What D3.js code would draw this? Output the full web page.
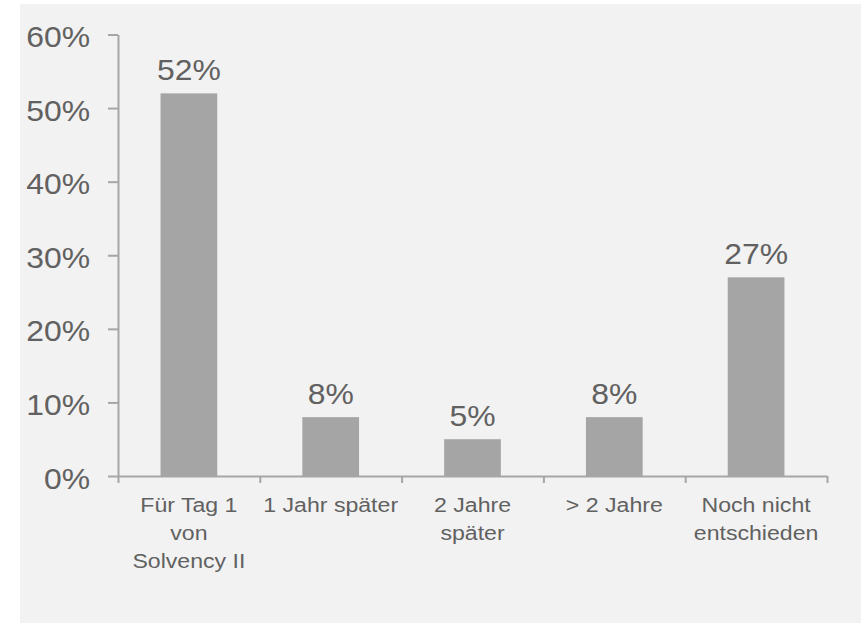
<!DOCTYPE html>
<html>
<head>
<meta charset="utf-8">
<script src="https://cdn.jsdelivr.net/npm/d3@7"></script>
<style>
  html, body { margin: 0; padding: 0; background: #ffffff; }
  svg { display: block; }
  text { font-family: "Liberation Sans", Arial, sans-serif; fill: #616161; }
</style>
</head>
<body>
<svg id="chart" width="862" height="623"></svg>
<script>
// Zeitpunkt der Umsetzung (Anteil der Antworten)
const categories = [
  ["Für Tag 1", "von", "Solvency II"],
  ["1 Jahr später"],
  ["2 Jahre", "später"],
  ["> 2 Jahre"],
  ["Noch nicht", "entschieden"]
];
const values = [0.52, 0.08, 0.05, 0.08, 0.27];
const valueLabels = ["52%", "8%", "5%", "8%", "27%"];
const yTicks = [0, 0.1, 0.2, 0.3, 0.4, 0.5, 0.6];

const plotLeft = 118, plotRight = 827, plotTop = 34.5, plotBottom = 476;
const stretch = 1.1; // horizontal widening of all text
const axisColor = "#a6a6a6";
const barColor = "#a5a5a5";
const textColor = "#616161";

const svg = d3.select("#chart");

// panel background
svg.append("rect")
  .attr("x", 20).attr("y", 4)
  .attr("width", 841).attr("height", 619)
  .attr("fill", "#f2f2f2");

const y = d3.scaleLinear().domain([0, 0.6]).range([plotBottom, plotTop]);
const x = d3.scaleBand().domain(d3.range(values.length)).range([plotLeft, plotRight]).padding(0);
const xEdge = d3.scaleLinear().domain([0, values.length]).range([plotLeft, plotRight]);

// bars
const barW = x.bandwidth() * 0.4;
svg.append("g").selectAll("rect")
  .data(values)
  .join("rect")
  .attr("x", (d, i) => x(i) + (x.bandwidth() - barW) / 2)
  .attr("y", d => y(d))
  .attr("width", barW)
  .attr("height", d => y(0) - y(d))
  .attr("fill", barColor);

// y axis
const yAxis = svg.append("g")
  .attr("transform", `translate(${plotLeft},0)`)
  .call(d3.axisLeft(y).tickValues(yTicks).tickFormat(d3.format(".0%")).tickSize(10).tickSizeOuter(0));
yAxis.selectAll("path, line").attr("stroke", axisColor).attr("stroke-width", 2);
yAxis.selectAll("text")
  .attr("x", null).attr("dy", null)
  .attr("transform", `translate(-28,12) scale(${stretch},1)`)
  .attr("text-anchor", "end")
  .attr("font-size", 29)
  .style("font-family", "'Liberation Sans', Arial, sans-serif")
  .attr("fill", textColor);

// x axis with ticks on category boundaries
const xAxis = svg.append("g")
  .attr("transform", `translate(0,${plotBottom})`)
  .call(d3.axisBottom(xEdge).tickValues(d3.range(values.length + 1)).tickFormat("").tickSize(7).tickSizeOuter(0));
xAxis.selectAll("path, line").attr("stroke", axisColor).attr("stroke-width", 2);

// category labels
const cat = svg.append("g").selectAll("text")
  .data(categories)
  .join("text")
  .attr("transform", (d, i) => `translate(${x(i) + x.bandwidth() / 2},${plotBottom + 36}) scale(${stretch},1)`)
  .attr("text-anchor", "middle")
  .attr("font-size", 21);
cat.selectAll("tspan")
  .data(d => d)
  .join("tspan")
  .attr("x", 0)
  .attr("y", (d, j) => j * 28)
  .text(d => d);

// value labels
svg.append("g").selectAll("text")
  .data(values)
  .join("text")
  .attr("transform", (d, i) => `translate(${x(i) + x.bandwidth() / 2},${y(d) - 13}) scale(${stretch},1)`)
  .attr("text-anchor", "middle")
  .attr("font-size", 29)
  .text((d, i) => valueLabels[i]);
</script>
</body>
</html>
